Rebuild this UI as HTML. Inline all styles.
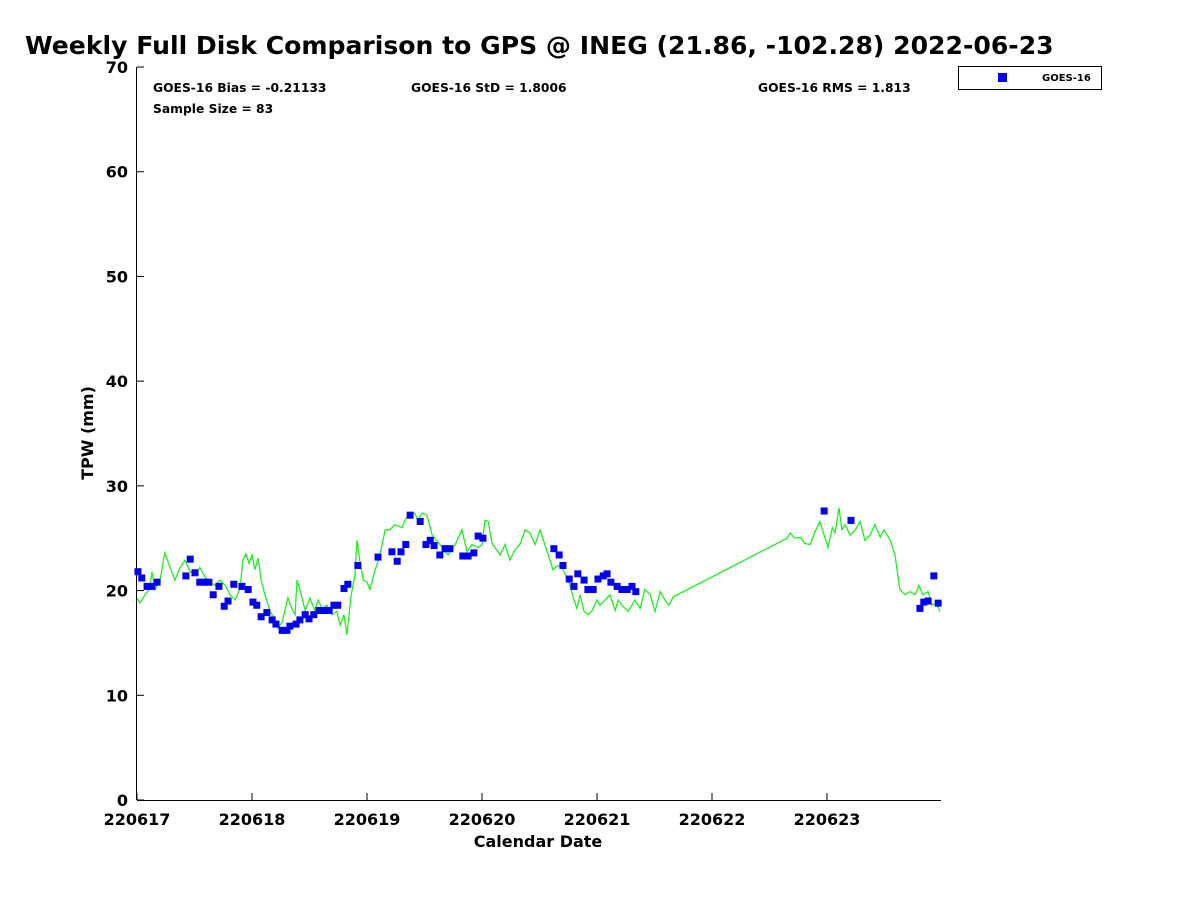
<!DOCTYPE html>
<html><head><meta charset="utf-8"><style>
body{margin:0;background:#fff;}
svg text{font-family:"DejaVu Sans","Liberation Sans",sans-serif;font-weight:bold;fill:#000;}
</style></head><body>
<svg id="chart" width="1200" height="900" xmlns="http://www.w3.org/2000/svg">
<rect width="1200" height="900" fill="#fff"/>
<text x="25" y="54" font-size="25.1">Weekly Full Disk Comparison to GPS @ INEG (21.86, -102.28) 2022-06-23</text>
<g id="axes"></g>
<g id="series"></g>
<text x="153" y="92" font-size="12.3">GOES-16 Bias = -0.21133</text>
<text x="411" y="92" font-size="12.3">GOES-16 StD = 1.8006</text>
<text x="758" y="92" font-size="12.3">GOES-16 RMS = 1.813</text>
<text x="153" y="113" font-size="12.3">Sample Size = 83</text>
<g>
<rect x="958.5" y="66.5" width="143" height="23" fill="#fff" stroke="#000" stroke-width="1"/>
<rect x="998" y="73" width="9" height="9" fill="#0000ee"/>
<text x="1042" y="81" font-size="10">GOES-16</text>
</g>
<text x="538" y="847" font-size="16" text-anchor="middle">Calendar Date</text>
<text transform="translate(93,433) rotate(-90)" font-size="16" text-anchor="middle">TPW (mm)</text>
</svg>
<script>
const xTickLabels=["220617","220618","220619","220620","220621","220622","220623"];
const yTicks=[0,10,20,30,40,50,60,70];
const lineHours=[0,0.6,1.7,2.7,3.1,3.8,4.8,5.8,6.9,7.9,9.0,10.0,11.1,12.1,13.1,14.2,15.2,16.3,17.3,18.4,19.4,20.5,21.5,22.1,22.7,23.4,24.0,24.6,25.3,25.9,26.7,27.8,28.8,29.4,30.3,31.5,32.3,33.0,33.4,34.0,35.1,36.1,37.1,37.8,38.6,39.7,40.7,41.7,42.4,43.2,43.8,44.7,45.5,45.9,46.5,47.2,48.0,48.6,49.4,50.7,51.8,52.8,53.8,55.3,55.9,57.0,58.0,58.6,59.5,60.5,61.6,63.2,64.9,66.4,67.8,68.9,69.9,71.2,72.0,72.6,73.3,74.1,75.8,76.8,77.8,78.9,79.9,81.0,82.0,83.1,84.1,85.1,86.2,86.8,87.9,88.7,90.0,91.2,91.8,92.5,93.3,94.1,95.0,96.0,96.6,97.7,98.7,99.8,100.4,101.2,102.5,103.9,105.0,106.0,107.1,108.1,109.2,110.2,111.0,111.9,135.7,136.3,137.3,138.4,139.4,140.5,141.5,142.5,143.6,144.2,145.1,145.7,146.5,147.1,147.8,148.8,149.9,150.9,151.9,153.0,154.0,155.1,155.9,157.2,158.2,159.2,160.3,161.3,162.4,163.2,164.0,165.1,165.9,166.8,167.6];
const lineValues=[19.3,18.8,19.6,20.2,21.8,20.1,21.0,23.6,22.2,21.0,22.2,22.9,21.8,21.5,22.2,21.3,20.8,20.5,21.0,20.5,19.6,19.1,20.2,22.9,23.5,22.6,23.4,22.0,23.1,21.0,19.6,18.0,17.2,16.4,17.0,19.3,18.3,17.7,21.0,20.1,18.1,19.3,18.1,19.1,18.3,18.6,17.7,18.0,16.7,17.7,15.8,19.6,21.5,24.8,22.9,21.0,20.8,20.1,21.5,23.4,25.8,25.8,26.3,26.0,26.7,27.4,27.4,26.7,27.4,27.2,25.3,24.4,23.4,24.4,25.8,23.7,24.4,24.1,24.4,26.7,26.6,24.5,23.4,24.4,22.9,23.9,24.4,25.8,25.5,24.4,25.8,24.4,22.9,22.0,22.4,22.2,21.0,19.1,18.3,19.6,18.0,17.7,18.1,19.1,18.6,19.1,19.6,18.1,19.1,18.6,18.0,19.1,18.3,20.1,19.6,18.0,19.9,19.1,18.6,19.4,25.0,25.5,25.0,25.1,24.5,24.4,25.6,26.6,25.0,24.1,26.0,25.5,27.9,25.8,26.3,25.3,25.8,26.6,24.8,25.3,26.3,25.1,25.8,24.8,23.4,20.1,19.6,19.9,19.6,20.5,19.6,19.9,18.6,18.8,18.0];
const goesHours=[0.2,1.0,2.1,3.1,4.2,10.2,11.1,12.1,13.1,14.2,15.0,15.9,17.1,18.2,19.0,20.2,21.9,23.2,24.2,25.0,25.9,27.1,28.2,29.0,30.3,31.3,31.9,33.2,34.0,35.1,35.9,36.9,38.0,39.0,40.1,41.1,41.9,43.2,44.0,46.1,50.3,53.2,54.3,55.1,56.1,57.0,59.1,60.3,61.2,62.0,63.2,64.3,65.3,68.0,69.1,70.3,71.2,72.2,87.0,88.1,88.9,90.2,91.2,92.0,93.3,94.1,95.2,96.2,97.3,98.1,98.9,100.2,101.2,102.3,103.3,104.1,143.4,149.0,163.4,164.2,165.1,166.3,167.2];
const goesValues=[21.8,21.2,20.4,20.4,20.8,21.4,23.0,21.7,20.8,20.8,20.8,19.6,20.4,18.5,19.0,20.6,20.4,20.1,18.9,18.6,17.5,17.9,17.2,16.8,16.2,16.2,16.6,16.8,17.2,17.7,17.3,17.7,18.1,18.1,18.1,18.6,18.6,20.2,20.6,22.4,23.2,23.7,22.8,23.7,24.4,27.2,26.6,24.4,24.8,24.3,23.4,24.0,24.0,23.3,23.3,23.6,25.2,25.0,24.0,23.4,22.4,21.1,20.4,21.6,21.0,20.1,20.1,21.1,21.4,21.6,20.8,20.4,20.1,20.1,20.4,19.9,27.6,26.7,18.3,18.9,19.0,21.4,18.8];

const L=137,R=941,T=67,B=800;
const xS=h=>L+h/24*115;
const yS=v=>B-(v/70)*(B-T);
const NS="http://www.w3.org/2000/svg";
function mk(tag,attrs,parent){const e=document.createElementNS(NS,tag);for(const k in attrs)e.setAttribute(k,attrs[k]);parent.appendChild(e);return e;}
const ax=document.getElementById('axes'), sr=document.getElementById('series');
const xl=mk('line',{x1:L,y1:B+0.5,x2:R,y2:B+0.5,stroke:'#000'},ax);


const yl=mk('line',{x1:L-0.5,y1:T,x2:L-0.5,y2:B,stroke:'#000'},ax);


yTicks.forEach(v=>{
  const y=yS(v);
  const tk=mk('line',{x1:L,y1:y,x2:L+7,y2:y,stroke:'#000'},ax);
  
  
  const t=mk('text',{x:L-9,y:y+6,'font-size':16,'text-anchor':'end'},ax);
  t.textContent=v;
  
  
});
xTickLabels.forEach((s,i)=>{
  const x=xS(i*24);
  const tk=mk('line',{x1:x,y1:B,x2:x,y2:B-7,stroke:'#000'},ax);
  
  
  const t=mk('text',{x:x,y:B+25,'font-size':16,'text-anchor':'middle'},ax);
  t.textContent=s;
  
  
});
const pts=lineHours.map((h,i)=>xS(h).toFixed(1)+','+yS(lineValues[i]).toFixed(1)).join(' ');
const pl=mk('polyline',{points:pts,fill:'none',stroke:'#22ee22','stroke-width':1.3},sr);


goesHours.forEach((h,i)=>{
  const r=mk('rect',{x:xS(h)-3.5,y:yS(goesValues[i])-3.5,width:7,height:7,fill:'#0000ee'},sr);
  
  
});
</script>
</body></html>
